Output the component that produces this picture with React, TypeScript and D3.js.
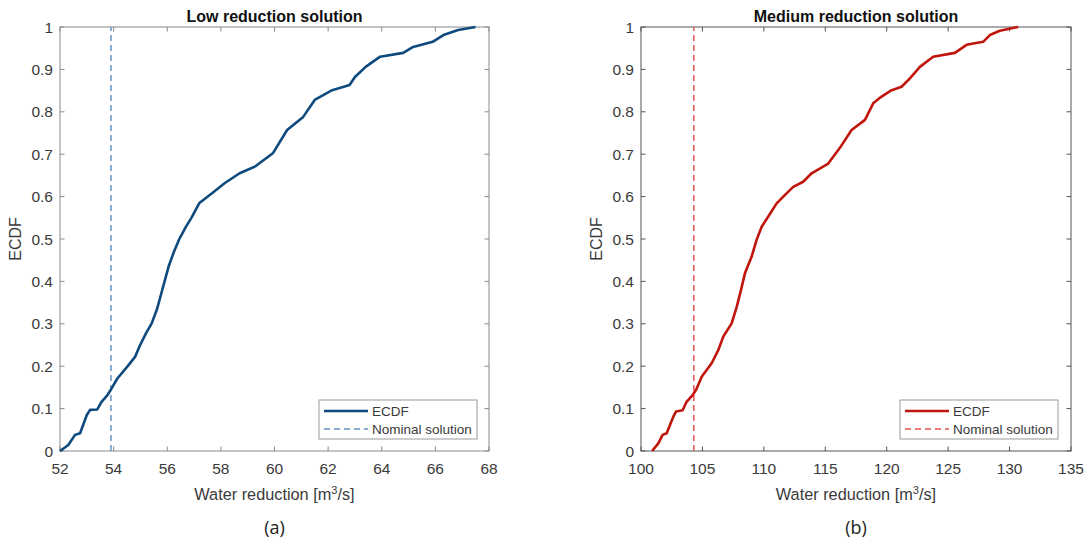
import { useRef, useEffect } from "react";
import * as d3 from "d3";

// ECDF readings, low reduction solution
const lowX = [52.0, 52.31, 52.56, 52.75, 53.0, 53.12, 53.39, 53.55, 53.77, 53.89, 54.14, 54.51, 54.8, 54.96, 55.21, 55.42, 55.61, 55.75, 55.9, 56.05, 56.25, 56.45, 56.7, 56.9, 57.2, 57.67, 58.15, 58.7, 59.3, 59.95, 60.47, 61.07, 61.5, 62.15, 62.8, 63.0, 63.4, 63.94, 64.8, 65.17, 65.9, 66.3, 66.85, 67.5];
const lowP = [0, 0.014, 0.038, 0.042, 0.085, 0.097, 0.098, 0.116, 0.132, 0.144, 0.171, 0.199, 0.222, 0.246, 0.278, 0.301, 0.333, 0.365, 0.4, 0.435, 0.47, 0.5, 0.529, 0.55, 0.585, 0.608, 0.632, 0.655, 0.672, 0.703, 0.757, 0.788, 0.828, 0.851, 0.863, 0.882, 0.906, 0.93, 0.939, 0.953, 0.965, 0.981, 0.993, 1.0];

// ECDF readings, medium reduction solution
const medX = [100.9, 101.41, 101.76, 102.09, 102.63, 102.85, 103.39, 103.71, 104.2, 104.48, 104.94, 105.75, 106.29, 106.7, 107.38, 107.79, 108.14, 108.46, 109.0, 109.41, 109.82, 110.36, 111.04, 111.58, 112.39, 113.2, 113.89, 115.24, 116.19, 117.14, 118.23, 118.9, 119.58, 120.4, 121.21, 121.89, 122.7, 123.78, 125.55, 126.5, 127.85, 128.4, 129.2, 130.7];
const medP = [0, 0.018, 0.038, 0.042, 0.081, 0.093, 0.096, 0.116, 0.132, 0.144, 0.175, 0.207, 0.238, 0.27, 0.301, 0.34, 0.38, 0.419, 0.458, 0.498, 0.529, 0.553, 0.584, 0.6, 0.623, 0.635, 0.655, 0.678, 0.715, 0.757, 0.781, 0.82, 0.836, 0.851, 0.859, 0.879, 0.906, 0.93, 0.939, 0.958, 0.965, 0.981, 0.991, 1.0];

const lowNominal = 53.9;
const medNominal = 104.3;

const lowTicks = d3.range(52, 69, 2);
const medTicks = d3.range(100, 136, 5);
const yTicks = d3.range(0, 1.01, 0.1);

const W = 1089;
const H = 545;
const FONT = "'Liberation Sans', Arial, sans-serif";
const TEXT = "#3a3a3a";

interface PanelCfg {
  left: number;
  right: number;
  domain: [number, number];
  ticks: number[];
  xs: number[];
  ps: number[];
  nominal: number;
  title: string;
  tag: string;
  lineColor: string;
  dashColor: string;
  axisColor: string;
  legend: [number, number];
}

const top = 27;
const bottom = 451;

function drawPanel(svg: d3.Selection<SVGSVGElement, unknown, null, undefined>, c: PanelCfg) {
  const x = d3.scaleLinear().domain(c.domain).range([c.left, c.right]);
  const y = d3.scaleLinear().domain([0, 1]).range([bottom, top]);
  const g = svg.append("g");
  const tl = 4.5;

  // frame
  g.append("rect")
    .attr("x", c.left).attr("y", top)
    .attr("width", c.right - c.left).attr("height", bottom - top)
    .attr("fill", "none").attr("stroke", c.axisColor).attr("stroke-width", 1);

  // x ticks (bottom + top, inward)
  c.ticks.forEach((t) => {
    g.append("line").attr("x1", x(t)).attr("x2", x(t)).attr("y1", bottom).attr("y2", bottom - tl).attr("stroke", c.axisColor);
    g.append("line").attr("x1", x(t)).attr("x2", x(t)).attr("y1", top).attr("y2", top + tl).attr("stroke", c.axisColor);
    g.append("text").attr("x", x(t)).attr("y", bottom + 23).attr("text-anchor", "middle")
      .attr("font-family", FONT).attr("font-size", 15.5).attr("fill", TEXT).text(String(t));
  });

  // y ticks (left + right, inward)
  yTicks.forEach((t) => {
    g.append("line").attr("x1", c.left).attr("x2", c.left + tl).attr("y1", y(t)).attr("y2", y(t)).attr("stroke", c.axisColor);
    g.append("line").attr("x1", c.right).attr("x2", c.right - tl).attr("y1", y(t)).attr("y2", y(t)).attr("stroke", c.axisColor);
    g.append("text").attr("x", c.left - 7).attr("y", y(t) + 5.5).attr("text-anchor", "end")
      .attr("font-family", FONT).attr("font-size", 15.5).attr("fill", TEXT).text(d3.format("~g")(+t.toFixed(1)));
  });

  const mid = (c.left + c.right) / 2;
  g.append("text").attr("x", mid).attr("y", 22).attr("text-anchor", "middle")
    .attr("font-family", FONT).attr("font-size", 16).attr("font-weight", "bold").attr("fill", "#111").text(c.title);

  g.append("text").attr("transform", `translate(${c.left - 39},${(top + bottom) / 2}) rotate(-90)`)
    .attr("text-anchor", "middle").attr("font-family", FONT).attr("font-size", 16).attr("fill", TEXT).text("ECDF");

  const xl = g.append("text").attr("x", mid).attr("y", 500).attr("text-anchor", "middle")
    .attr("font-family", FONT).attr("font-size", 16.3).attr("fill", TEXT);
  xl.append("tspan").text("Water reduction [m");
  xl.append("tspan").attr("dy", -6).attr("font-size", 11).text("3");
  xl.append("tspan").attr("dy", 6).text("/s]");

  g.append("text").attr("x", mid).attr("y", 534).attr("text-anchor", "middle")
    .attr("font-family", "'Open Sans', 'Noto Sans', sans-serif").attr("font-size", 18).attr("fill", "#222").text(c.tag);

  // nominal line
  g.append("line").attr("x1", x(c.nominal)).attr("x2", x(c.nominal)).attr("y1", bottom).attr("y2", top)
    .attr("stroke", c.dashColor).attr("stroke-width", 1.5).attr("stroke-dasharray", "6,4");

  // ECDF curve
  const pts = c.xs.map((v, i) => [v, c.ps[i]] as [number, number]);
  const line = d3.line<[number, number]>().x((d) => x(d[0])).y((d) => y(d[1]));
  g.append("path").datum(pts).attr("d", line).attr("fill", "none")
    .attr("stroke", c.lineColor).attr("stroke-width", 2.6).attr("stroke-linejoin", "round");

  // legend
  const [lx, ly] = c.legend;
  g.append("rect").attr("x", lx).attr("y", ly).attr("width", 158).attr("height", 39)
    .attr("fill", "#fff").attr("stroke", "#999").attr("stroke-width", 1);
  g.append("line").attr("x1", lx + 5).attr("x2", lx + 49).attr("y1", ly + 11).attr("y2", ly + 11)
    .attr("stroke", c.lineColor).attr("stroke-width", 2.6);
  g.append("line").attr("x1", lx + 5).attr("x2", lx + 49).attr("y1", ly + 29).attr("y2", ly + 29)
    .attr("stroke", c.dashColor).attr("stroke-width", 1.3).attr("stroke-dasharray", "6,4");
  g.append("text").attr("x", lx + 53).attr("y", ly + 16).attr("font-family", FONT).attr("font-size", 13.5)
    .attr("fill", TEXT).text("ECDF");
  g.append("text").attr("x", lx + 53).attr("y", ly + 34).attr("font-family", FONT).attr("font-size", 13.5)
    .attr("fill", TEXT).text("Nominal solution");
}

export default function App() {
  const ref = useRef<SVGSVGElement | null>(null);

  useEffect(() => {
    const svg = d3.select(ref.current!).attr("viewBox", `0 0 ${W} ${H}`);
    svg.selectAll("*").remove();
    svg.append("rect").attr("width", W).attr("height", H).attr("fill", "#fff");

    drawPanel(svg as any, {
      left: 60, right: 489, domain: [52, 68], ticks: lowTicks,
      xs: lowX, ps: lowP, nominal: lowNominal,
      title: "Low reduction solution", tag: "(a)",
      lineColor: "#0f4a7f", dashColor: "#6b94c0", axisColor: "#8a8a8a",
      legend: [319, 400],
    });
    drawPanel(svg as any, {
      left: 641, right: 1071, domain: [100, 135], ticks: medTicks,
      xs: medX, ps: medP, nominal: medNominal,
      title: "Medium reduction solution", tag: "(b)",
      lineColor: "#c0150c", dashColor: "#e35252", axisColor: "#555",
      legend: [900, 400],
    });
  }, []);

  return <svg ref={ref} width={W} height={H} style={{ position: "absolute", left: 0, top: 0 }} />;
}
